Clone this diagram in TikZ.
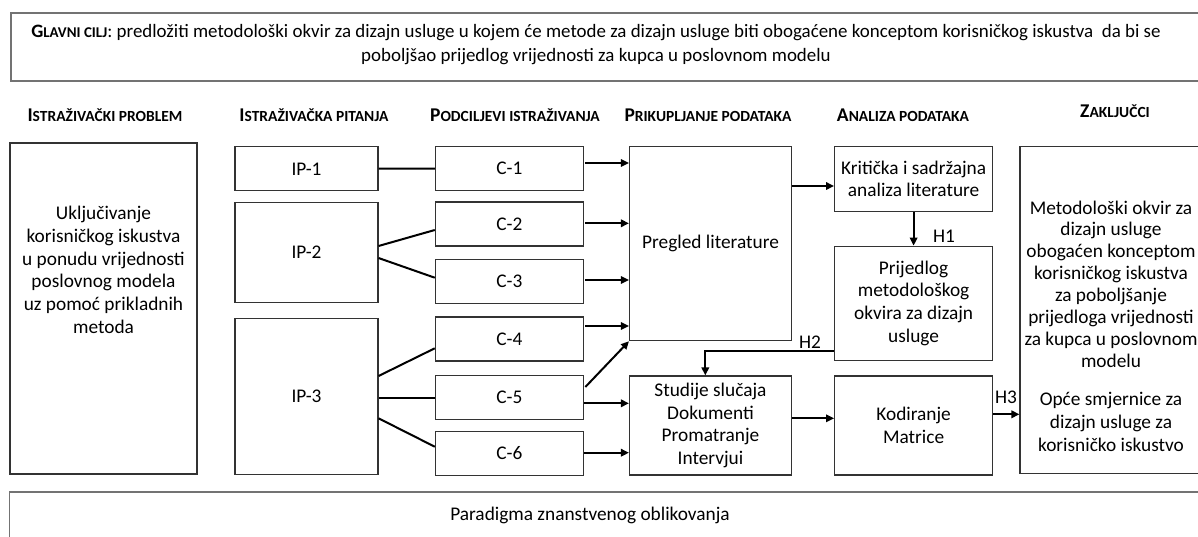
\documentclass[tikz,border=0pt]{standalone}
\usepackage{fontspec}
\setmainfont{Carlito}
\usetikzlibrary{arrows.meta,calc}

\newcommand{\hdr}[2]{\textbf{{\fontsize{14.6}{17}\selectfont #1}{\fontsize{11.6}{17}\selectfont #2}}}

\begin{document}
\begin{tikzpicture}[x=0.75pt, y=-0.75pt,
                    box_style/.style n args={2}{draw=black!80, line width=0.8pt, inner sep=0pt,
                      align=center, font=\fontsize{14.5}{17}\selectfont,
                      minimum width=#1*0.75pt, minimum height=#2*0.75pt},
                    txt_style/.style={align=center, inner sep=0pt, font=\fontsize{14.5}{17}\selectfont},
                    frame_style/.style n args={2}{draw=black!55, line width=1.4pt, inner sep=0pt,
                      minimum width=#1*0.75pt, minimum height=#2*0.75pt},
                    line_style/.style={draw=black, line width=1.5pt},
                    edge_style/.style={-{Triangle[length=6pt,width=5.5pt]}, draw=black, line width=1.5pt}
   ]
   \useasboundingbox (0,0) rectangle (1198,536);
   % Okviri
   \node[frame_style={1194}{68}] (top) at (608,47) {};
   \node[txt_style, font=\fontsize{14.2}{18}\selectfont] (cilj) at (596,45)
      {{\renewcommand{\hdr}[2]{\textbf{{\fontsize{14.2}{18}\selectfont #1}{\fontsize{11.2}{18}\selectfont #2}}}\hdr{G}{LAVNI CILJ}}: predložiti metodološki okvir za dizajn usluge u kojem će metode za dizajn usluge biti obogaćene konceptom korisničkog iskustva\ \ da bi se\\
       poboljšao prijedlog vrijednosti za kupca u poslovnom modelu};
   \node[frame_style={1196}{53}] (bottom) at (607.5,518.5) {};
   \node[txt_style] (paradigma) at (590,515) {Paradigma znanstvenog oblikovanja};
   % Naslovi stupaca
   \node[txt_style] (h_prob) at (105,115) {\hdr{I}{STRAŽIVAČKI PROBLEM}};
   \node[txt_style] (h_pit) at (314,115) {\hdr{I}{STRAŽIVAČKA PITANJA}};
   \node[txt_style] (h_cilj) at (515,115) {\hdr{P}{ODCILJEVI ISTRAŽIVANJA}};
   \node[txt_style] (h_prik) at (708,115) {\hdr{P}{RIKUPLJANJE PODATAKA}};
   \node[txt_style] (h_anal) at (903,115) {\hdr{A}{NALIZA PODATAKA}};
   \node[txt_style] (h_zak) at (1115,111) {\hdr{Z}{AKLJUČCI}};
   % Problem i pitanja
   \node[box_style={187}{331}] (prob) at (103.5,308.5) {};
   \node[txt_style] (prob_txt) at (103.5,270) {Uključivanje\\ korisničkog iskustva\\ u ponudu vrijednosti\\ poslovnog modela\\ uz pomoć prikladnih\\ metoda};
   \node[box_style={143}{44}] (ip1) at (306.5,168.8) {IP-1};
   \node[box_style={143}{100}] (ip2) at (306.5,252.7) {IP-2};
   \node[box_style={143}{156}] (ip3) at (306.5,396.2) {IP-3};
   % Podciljevi
   \node[box_style={148}{44}] (c1) at (509.3,168.6) {C-1};
   \node[box_style={148}{44}] (c2) at (509.3,224) {C-2};
   \node[box_style={148}{44}] (c3) at (509.3,281.3) {C-3};
   \node[box_style={148}{44}] (c4) at (509.3,339) {C-4};
   \node[box_style={148}{44}] (c5) at (509.3,397.7) {C-5};
   \node[box_style={148}{44}] (c6) at (509.3,453.3) {C-6};
   % Prikupljanje i analiza
   \node[box_style={162}{194}] (preg) at (710.5,243.7) {Pregled literature};
   \node[box_style={162}{99}] (stud) at (710.5,425.5) {Studije slučaja\\ Dokumenti\\ Promatranje\\ Intervjui};
   \node[box_style={158}{65}] (krit) at (913.6,179) {Kritička i sadržajna\\ analiza literature};
   \node[box_style={158}{114}] (prij) at (913.6,303.2) {Prijedlog\\ metodološkog\\ okvira za dizajn\\ usluge};
   \node[box_style={158}{99}] (kod) at (913.6,425.5) {Kodiranje\\ Matrice};
   % Zakljucci
   \node[box_style={182}{327}] (zak) at (1111,310.3) {};
   \node[txt_style, font=\fontsize{14.5}{16.4}\selectfont] (zak_txt1) at (1111,284) {Metodološki okvir za\\ dizajn usluge\\ obogaćen konceptom\\ korisničkog iskustva\\ za poboljšanje\\ prijedloga vrijednosti\\ za kupca u poslovnom\\ modelu};
   \node[txt_style] (zak_txt2) at (1111,422) {Opće smjernice za\\ dizajn usluge za\\ korisničko iskustvo};
   % Oznake hipoteza
   \node[txt_style] (h1) at (944,236) {H1};
   \node[txt_style] (h2) at (810,342) {H2};
   \node[txt_style] (h3) at (1006,397) {H3};

   % Veze pitanja - podciljevi
   \draw[line_style] (ip1) -- (c1);
   \draw[line_style] ($(ip2.east)+(0,-6.7)$) -- ($(c2.west)+(0,6)$);
   \draw[line_style] ($(ip2.east)+(0,5.3)$) -- ($(c3.west)+(0,-3.6)$);
   \draw[line_style] ($(ip3.east)+(0,-20.2)$) -- ($(c4.west)+(0,9.3)$);
   \draw[line_style] (ip3.east |- c5.west) -- (c5.west);
   \draw[line_style] ($(ip3.east)+(0,22.1)$) -- ($(c6.west)+(0,-6.6)$);

   % Strelice
   \coordinate (a1) at ($(c1.east)+(1.5,-5.6)$);
   \coordinate (a2) at ($(c2.east)+(1.5,-0.7)$);
   \coordinate (a3) at ($(c3.east)+(1.5,-1.3)$);
   \coordinate (a4) at ($(c4.east)+(1.5,-13)$);
   \coordinate (a5) at ($(c5.east)+(0,5.6)$);
   \coordinate (a6) at ($(c6.east)+(0,-0.6)$);
   \coordinate (d5) at ($(c5.east)+(1.5,-10.7)$);
   \coordinate (a7) at ($(krit.west)+(0,7)$);
   \coordinate (a8) at ($(stud.east)+(0,-7.2)$);
   \coordinate (a9) at ($(kod.east)+(0,-11.2)$);
   \coordinate (b2) at ($(prij.south west)+(0,-9.8)$);
   \coordinate (b3) at ($(stud.north)+(-5.2,0)$);
   \draw[edge_style] (a1) -- (a1 -| preg.west);
   \draw[edge_style] (a2) -- (a2 -| preg.west);
   \draw[edge_style] (a3) -- (a3 -| preg.west);
   \draw[edge_style] (a4) -- (a4 -| preg.west);
   \draw[edge_style] (d5) -- (preg.south west);
   \draw[edge_style] (a5) -- (a5 -| stud.west);
   \draw[edge_style] (a6) -- (a6 -| stud.west);
   \draw[edge_style] (a7 -| preg.east) -- (a7);
   \draw[edge_style] (krit) -- (prij);
   \draw[edge_style] (b2) -| (b3);
   \draw[edge_style] (a8) -- (a8 -| kod.west);
   \draw[edge_style] (a9) -- (a9 -| zak.west);
\end{tikzpicture}
\end{document}
